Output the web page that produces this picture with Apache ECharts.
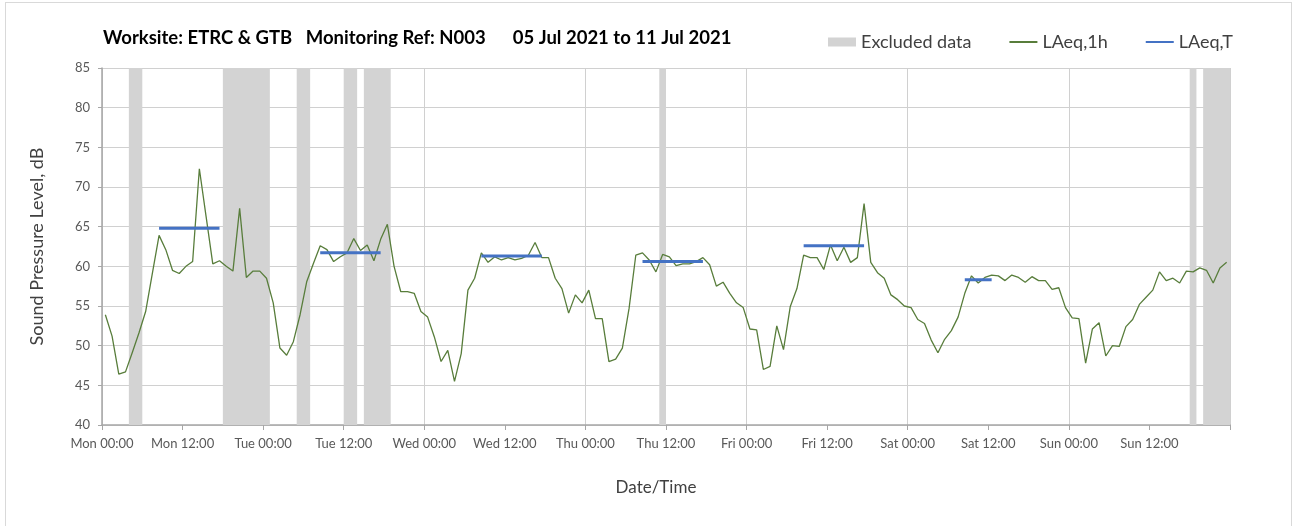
<!DOCTYPE html>
<html>
<head>
<meta charset="utf-8">
<script src="https://cdn.jsdelivr.net/npm/echarts@6/dist/echarts.min.js"></script>
<style>
html,body{margin:0;padding:0;background:#fff;overflow:hidden;}
#frame{position:absolute;left:5px;top:2px;width:1287px;height:600px;border:1px solid #d9d9d9;box-sizing:border-box;}
#chart{position:absolute;left:0;top:0;width:1295px;height:526px;}
</style>
</head>
<body>
<div id="frame"></div>
<div id="chart"></div>
<script>
// Hourly LAeq,1h values (dB), one array per day, hours 00..23
const monValues = [53.9,51.2,46.4,46.7,49.1,51.6,54.3,59.1,63.9,62.1,59.5,59.1,60.0,60.6,72.3,66.3,60.3,60.7,60.0,59.4,67.3,58.6,59.4,59.4];
const tueValues = [58.5,55.4,49.7,48.8,50.5,53.9,58.1,60.4,62.6,62.1,60.6,61.2,61.7,63.5,62.0,62.7,60.7,63.4,65.3,60.0,56.8,56.8,56.6,54.3];
const wedValues = [53.6,51.1,48.0,49.4,45.5,49.0,57.0,58.5,61.7,60.5,61.2,60.8,61.1,60.8,61.0,61.4,63.0,61.1,61.1,58.5,57.2,54.1,56.4,55.4];
const thuValues = [57.0,53.4,53.4,48.0,48.3,49.7,54.7,61.4,61.7,60.8,59.3,61.5,61.2,60.1,60.3,60.3,60.6,61.1,60.2,57.5,58.0,56.6,55.4,54.8];
const friValues = [52.1,52.0,47.0,47.4,52.5,49.5,54.9,57.2,61.4,61.1,61.1,59.6,62.7,60.7,62.4,60.5,61.1,67.9,60.5,59.2,58.5,56.4,55.8,55.0];
const satValues = [54.8,53.3,52.8,50.7,49.1,50.8,51.9,53.6,56.6,58.8,57.9,58.6,58.9,58.8,58.2,58.9,58.6,58.0,58.7,58.2,58.2,57.1,57.3,54.8];
const sunValues = [53.5,53.4,47.8,52.1,52.9,48.7,50.0,49.9,52.4,53.3,55.2,56.1,57.0,59.3,58.2,58.5,57.9,59.4,59.3,59.8,59.5,57.9,59.8,60.5];

// LAeq,T periods (hours from Mon 00:00) and values
const periodStart = [8, 32, 56, 80, 104, 128];
const periodEnd   = [18, 42, 66, 90, 114, 133];
const periodValue = [64.8, 61.7, 61.3, 60.6, 62.6, 58.3];

// Excluded data periods (hours from Mon 00:00)
const excludedStart = [4, 18, 29, 36, 39, 83, 162, 164];
const excludedEnd   = [6, 25, 31, 38, 43, 84, 163, 168];

// Axis tick labels (every 12 hours)
const xTickLabels = ['Mon 00:00','Mon 12:00','Tue 00:00','Tue 12:00','Wed 00:00','Wed 12:00','Thu 00:00','Thu 12:00','Fri 00:00','Fri 12:00','Sat 00:00','Sat 12:00','Sun 00:00','Sun 12:00'];
const yTicks = [40,45,50,55,60,65,70,75,80,85];

const titleText = 'Worksite: ETRC & GTB   Monitoring Ref: N003      05 Jul 2021 to 11 Jul 2021';

const hourly = [].concat(monValues, tueValues, wedValues, thuValues, friValues, satValues, sunValues);
const hourlyData = hourly.map((v, i) => [i + 0.5, v]);

const FONT = 'Lato';
const GREEN = '#587d3b';
const BLUE = '#4472c4';
const GREY = '#d3d3d3';

const series = [
  {
    name: 'Excluded data',
    type: 'line',
    data: [],
    itemStyle: { color: GREY },
    lineStyle: { color: GREY },
    z: 1,
    markArea: {
      silent: true,
      itemStyle: { color: GREY },
      data: excludedStart.map((s, k) => [{ xAxis: s }, { xAxis: excludedEnd[k] }])
    }
  },
  {
    name: 'LAeq,1h',
    type: 'line',
    data: hourlyData,
    symbol: 'none',
    showSymbol: false,
    lineStyle: { color: GREEN, width: 1.3 },
    itemStyle: { color: GREEN },
    z: 3
  }
];
periodStart.forEach((s, k) => {
  series.push({
    name: 'LAeq,T',
    type: 'line',
    data: [[s + 0.5, periodValue[k]], [periodEnd[k] - 0.5, periodValue[k]]],
    symbol: 'none',
    showSymbol: false,
    lineStyle: { color: BLUE, width: 3 },
    itemStyle: { color: BLUE },
    z: 4
  });
});

const chart = echarts.init(document.getElementById('chart'));
chart.setOption({
  animation: false,
  backgroundColor: 'transparent',
  textStyle: { fontFamily: FONT },
  title: {
    text: titleText,
    left: 103,
    top: 29,
    padding: 0,
    textStyle: { fontFamily: FONT, fontSize: 18.5, fontWeight: 'bold', color: '#000' }
  },
  legend: {
    left: 828,
    top: 33,
    padding: 0,
    itemWidth: 28,
    itemHeight: 9,
    itemGap: 37,
    selectedMode: false,
    textStyle: { fontFamily: FONT, fontSize: 18, color: '#404040' },
    data: [
      { name: 'Excluded data', icon: 'rect' },
      { name: 'LAeq,1h', itemStyle: { opacity: 0 } },
      { name: 'LAeq,T', itemStyle: { opacity: 0 } }
    ]
  },
  grid: { left: 102, right: 65, top: 68, bottom: 101 },
  xAxis: [
    {
      type: 'value',
      min: 0, max: 168, interval: 12,
      name: 'Date/Time',
      nameLocation: 'middle',
      nameGap: 54,
      nameTextStyle: { fontFamily: FONT, fontSize: 17, color: '#404040', padding: [0, 20, 0, 0] },
      axisLine: { show: true, lineStyle: { color: '#a6a6a6', width: 1.5 } },
      axisTick: { show: true, length: 5, lineStyle: { color: '#a6a6a6' } },
      axisLabel: {
        fontFamily: FONT, fontSize: 13, color: '#595959', margin: 12,
        formatter: v => xTickLabels[Math.round(v / 12)] || ''
      },
      splitLine: { show: false }
    },
    {
      type: 'value',
      min: 0, max: 168, interval: 24,
      position: 'bottom',
      axisLine: { show: false },
      axisTick: { show: false },
      axisLabel: { show: false },
      splitLine: { show: true, lineStyle: { color: '#d0d0d0', width: 1 } }
    }
  ],
  yAxis: {
    type: 'value',
    min: yTicks[0], max: yTicks[yTicks.length - 1], interval: 5,
    name: 'Sound Pressure Level, dB',
    nameLocation: 'middle',
    nameGap: 56,
    nameTextStyle: { fontFamily: FONT, fontSize: 18, color: '#404040' },
    axisLine: { show: true, lineStyle: { color: '#a6a6a6', width: 1.5 } },
    axisTick: { show: true, length: 4, lineStyle: { color: '#a6a6a6' } },
    axisLabel: { fontFamily: FONT, fontSize: 13, color: '#595959', margin: 12 },
    splitLine: { show: true, lineStyle: { color: '#d0d0d0', width: 1 } }
  },
  series: series
});
</script>
</body>
</html>
